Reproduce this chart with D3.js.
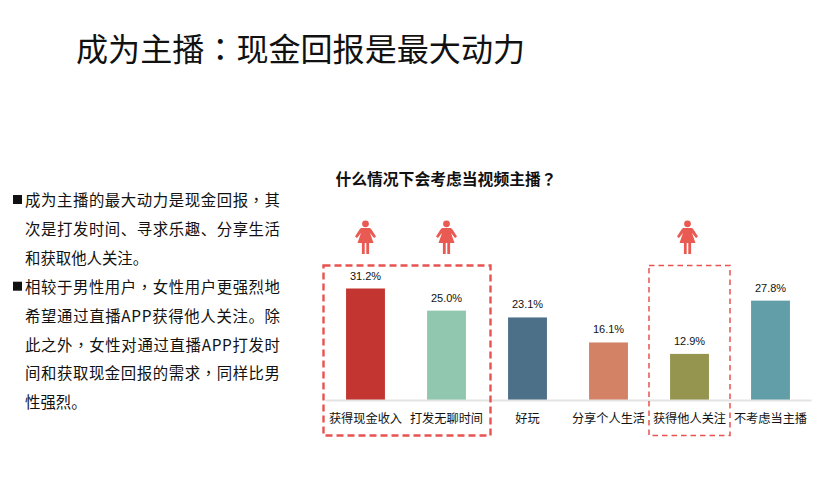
<!DOCTYPE html>
<html>
<head>
<meta charset="utf-8">
<script src="https://cdn.jsdelivr.net/npm/d3@7"></script>
<style>
  html, body { margin: 0; padding: 0; background: #fff; }
  svg { display: block; }
  text { font-family: "Noto Sans CJK SC", "Liberation Sans", sans-serif; fill: #111; }
</style>
</head>
<body>
<svg id="chart" width="819" height="501"></svg>
<script>
const categories = ["获得现金收入", "打发无聊时间", "好玩", "分享个人生活", "获得他人关注", "不考虑当主播"];
const values = [31.2, 25.0, 23.1, 16.1, 12.9, 27.8];
const barColors = ["#c23531", "#91c7ae", "#4d7089", "#d48265", "#95954f", "#619ea8"];
const femaleFlags = ["获得现金收入", "打发无聊时间", "获得他人关注"];
const boxGroups = [
  { from: "获得现金收入", to: "打发无聊时间", weight: 2.4, dash: "7 4", padLeft: 1.5, padRight: 3.5 },
  { from: "获得他人关注", to: "获得他人关注", weight: 1.5, dash: "5.5 4", padLeft: 0, padRight: 0 }
];
const bullets = [
  ["成为主播的最大动力是现金回报，其", "次是打发时间、寻求乐趣、分享生活", "和获取他人关注。"],
  ["相较于男性用户，女性用户更强烈地", "希望通过直播APP获得他人关注。除", "此之外，女性对通过直播APP打发时", "间和获取现金回报的需求，同样比男", "性强烈。"]
];

const svg = d3.select("#chart");
const red = "#e8534f";

const x = d3.scaleBand()
  .domain(categories)
  .range([325, 811])
  .paddingInner(0.52)
  .paddingOuter(0.26);

const y = d3.scaleLinear()
  .domain([0, 31.2])
  .range([400, 288.5]);

// the reference centres these marks in their cell, the TC font does that
function addText(sel, str) {
  str.split(/([，：？])/).filter(s => s).forEach(s => {
    const t = sel.append("tspan").text(s);
    if (/[，：？]/.test(s)) t.style("font-family", "'Noto Sans CJK TC'");
  });
  return sel;
}

// title
svg.append("text")
  .attr("x", 76)
  .attr("y", 61)
  .attr("font-size", 32.1)
  .call(addText, "成为主播：现金回报是最大动力");

// left text
let lineNo = 0;
const left = svg.append("g");
bullets.forEach(lines => {
  left.append("rect")
    .attr("x", 13)
    .attr("y", 195 + lineNo * 28.9)
    .attr("width", 9)
    .attr("height", 9)
    .attr("fill", "#111");
  lines.forEach(line => {
    left.append("text")
      .attr("x", 25)
      .attr("y", 206 + lineNo * 28.9)
      .attr("font-size", 15.4)
      .attr("textLength", line.length > 10 ? 255 : null)
      .attr("lengthAdjust", "spacing")
      .call(addText, line);
    lineNo++;
  });
});

// chart title
svg.append("text")
  .attr("x", 446)
  .attr("y", 185)
  .attr("text-anchor", "middle")
  .attr("font-size", 15.8)
  .attr("font-weight", 700)
  .call(addText, "什么情况下会考虑当视频主播？");

// bars
svg.append("g")
  .selectAll("rect")
  .data(values)
  .join("rect")
  .attr("x", (d, i) => x(categories[i]))
  .attr("y", d => y(d))
  .attr("width", x.bandwidth())
  .attr("height", d => y(0) - y(d))
  .attr("fill", (d, i) => barColors[i]);

// value labels
svg.append("g")
  .selectAll("text")
  .data(values)
  .join("text")
  .attr("x", (d, i) => x(categories[i]) + x.bandwidth() / 2)
  .attr("y", d => y(d) - 9)
  .attr("text-anchor", "middle")
  .style("font-family", "'Liberation Sans'")
  .attr("font-size", 11)
  .text(d => d.toFixed(1) + "%");

// x axis
const xAxis = svg.append("g")
  .attr("transform", `translate(0,${y(0)})`)
  .call(d3.axisBottom(x).tickSize(0).tickPadding(14));
xAxis.select(".domain").attr("stroke", "#e3e3e3").attr("stroke-width", 2);
xAxis.selectAll("text")
  .attr("font-size", 12.2)
  .style("font-family", "'Noto Sans CJK SC'")
  .attr("fill", "#111");

// dashed boxes
boxGroups.forEach(b => {
  const x0 = x(b.from) - x.step() * x.paddingOuter() - b.padLeft;
  const x1 = x(b.to) + x.bandwidth() + x.step() * x.paddingOuter() + b.padRight;
  svg.append("rect")
    .attr("x", x0)
    .attr("y", 265.5)
    .attr("width", x1 - x0)
    .attr("height", 170)
    .attr("fill", "none")
    .attr("stroke", red)
    .attr("stroke-width", b.weight)
    .attr("stroke-dasharray", b.dash);
});

// female icons, one path drawn around the origin
const icon = d3.path();
icon.arc(0, -13.2, 3.4, 0, 2 * Math.PI);
icon.moveTo(-4.5, -9);
icon.lineTo(4.5, -9);
icon.lineTo(6, -7.5);
icon.lineTo(10.5, -0.5);
icon.lineTo(8.5, 1);
icon.lineTo(4.5, -4);
icon.lineTo(8, 6);
icon.lineTo(3.6, 6);
icon.lineTo(3.6, 17);
icon.lineTo(0.8, 17);
icon.lineTo(0.8, 6);
icon.lineTo(-0.8, 6);
icon.lineTo(-0.8, 17);
icon.lineTo(-3.6, 17);
icon.lineTo(-3.6, 6);
icon.lineTo(-8, 6);
icon.lineTo(-4.5, -4);
icon.lineTo(-8.5, 1);
icon.lineTo(-10.5, -0.5);
icon.lineTo(-6, -7.5);
icon.closePath();

svg.append("g")
  .selectAll("path")
  .data(femaleFlags)
  .join("path")
  .attr("d", icon.toString())
  .attr("fill", "#e95a52")
  .attr("transform", (d, i) => `translate(${x(d) + x.bandwidth() / 2 - (i === 2 ? 2 : 0)},237)`);
</script>
</body>
</html>
